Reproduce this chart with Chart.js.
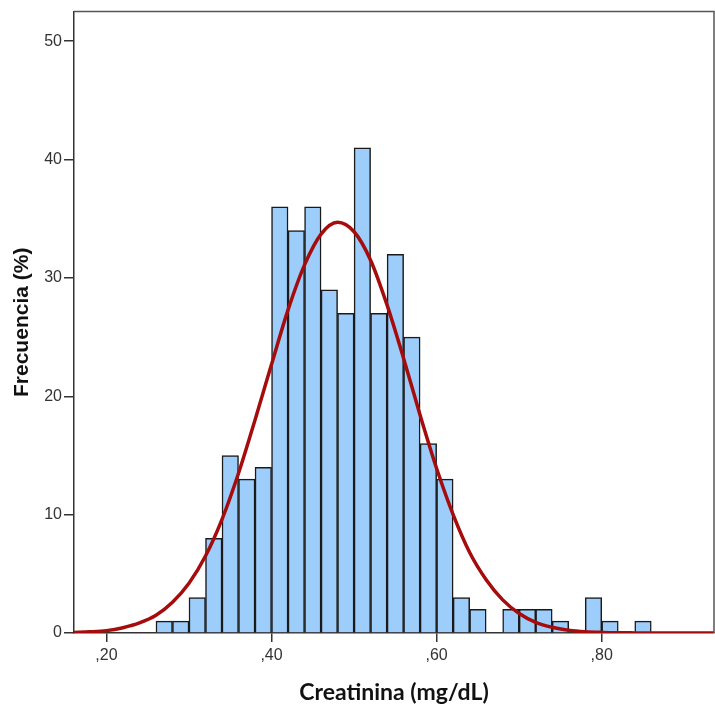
<!DOCTYPE html>
<html lang="es">
<head>
    <meta charset="UTF-8">
    <title>Creatinina</title>
    <script src="https://cdn.jsdelivr.net/npm/chart.js"></script>
    <style>
        html, body { margin: 0; padding: 0; background: #fff; }
        #wrap { width: 715px; height: 717px; position: relative; }
    </style>
</head>
<body>
<div id="wrap"><canvas id="histChart"></canvas></div>

<script>
    // left edge of each 0.02-wide bin and its count
    const binStarts = [0.26, 0.28, 0.30, 0.32, 0.34, 0.36, 0.38, 0.40, 0.42, 0.44,
                       0.46, 0.48, 0.50, 0.52, 0.54, 0.56, 0.58, 0.60, 0.62, 0.64,
                       0.66, 0.68, 0.70, 0.72, 0.74, 0.76, 0.78, 0.80, 0.82, 0.84];
    const counts = [1, 1, 3, 8, 15, 13, 14, 36, 34, 36,
                    29, 27, 41, 27, 32, 25, 16, 13, 3, 2,
                    0, 2, 2, 2, 1, 0, 3, 1, 0, 1];
    const binWidth = 0.02;

    // normal curve
    const curveX = [0.16, 0.18, 0.20, 0.22, 0.24, 0.26, 0.28, 0.30, 0.32, 0.34,
                    0.36, 0.38, 0.40, 0.42, 0.44, 0.46, 0.48, 0.50, 0.52, 0.54,
                    0.56, 0.58, 0.60, 0.62, 0.64, 0.66, 0.68, 0.70, 0.72, 0.74,
                    0.76, 0.78, 0.80, 0.82, 0.84, 0.88, 0.936];
    const curveY = [0.05, 0.1, 0.2, 0.45, 0.85, 1.5, 2.6, 4.2, 6.5, 9.6,
                    13.5, 18.0, 22.7, 27.3, 31.1, 33.7, 34.7, 33.9, 31.5, 27.7,
                    23.2, 18.4, 13.9, 10.0, 6.8, 4.5, 2.8, 1.65, 0.9, 0.48,
                    0.24, 0.11, 0.05, 0.02, 0.01, 0, 0];

    const xTicks = [0.20, 0.40, 0.60, 0.80];
    const yTicks = [0, 10, 20, 30, 40, 50];

    const frame = {
        id: 'frame',
        afterDraw(chart) {
            const a = chart.chartArea, ctx = chart.ctx;
            ctx.save();
            ctx.strokeStyle = '#555';
            ctx.lineWidth = 1.5;
            ctx.beginPath();
            ctx.moveTo(a.left, a.top);
            ctx.lineTo(a.right, a.top);
            ctx.lineTo(a.right, a.bottom);
            ctx.stroke();
            ctx.restore();
        }
    };

    const ctx = document.getElementById('histChart').getContext('2d');
    new Chart(ctx, {
        data: {
            datasets: [{
                type: 'line',
                data: curveX.map((x, i) => ({ x, y: curveY[i] })),
                borderColor: '#A50D0D',
                borderWidth: 3.5,
                pointRadius: 0,
                tension: 0.4,
                cubicInterpolationMode: 'monotone',
                order: 0
            }, {
                type: 'bar',
                data: binStarts.map((s, i) => ({ x: s + binWidth / 2, y: counts[i] })),
                backgroundColor: '#9DCDFB',
                borderColor: '#1a1a1a',
                borderWidth: 1.5,
                barPercentage: 1,
                categoryPercentage: 1,
                order: 1
            }]
        },
        options: {
            responsive: true,
            maintainAspectRatio: false,
            animation: false,
            layout: { padding: { top: 10, right: 1, left: 0, bottom: 0 } },
            plugins: { legend: { display: false }, tooltip: { enabled: false } },
            scales: {
                x: {
                    type: 'linear',
                    min: 0.1607,
                    max: 0.936,
                    offset: false,
                    afterBuildTicks: s => { s.ticks = xTicks.map(v => ({ value: v })); },
                    afterFit: s => { s.height = 84; },
                    grid: { offset: false, drawOnChartArea: false, drawTicks: true, tickLength: 9, color: '#333', lineWidth: 1.5 },
                    border: { display: true, color: '#333', width: 1.5 },
                    ticks: {
                        padding: 4,
                        color: '#333',
                        font: { family: 'Liberation Sans', size: 16 },
                        callback: v => ',' + v.toFixed(2).split('.')[1]
                    },
                    title: {
                        display: true,
                        text: 'Creatinina (mg/dL)',
                        color: '#111',
                        font: { family: 'Lato', size: 23, weight: 'bold' },
                        padding: { top: 0, bottom: 11 }
                    }
                },
                y: {
                    min: 0,
                    max: 52.5,
                    afterBuildTicks: s => { s.ticks = yTicks.map(v => ({ value: v })); },
                    afterFit: s => { s.width = 74; },
                    grid: { drawOnChartArea: false, drawTicks: true, tickLength: 10, color: '#333', lineWidth: 1.5 },
                    border: { display: true, color: '#333', width: 1.5 },
                    ticks: {
                        padding: 2,
                        color: '#333',
                        font: { family: 'Liberation Sans', size: 16 }
                    },
                    title: {
                        display: true,
                        text: 'Frecuencia (%)',
                        color: '#111',
                        font: { family: 'Liberation Sans', size: 21, weight: 'bold' },
                        padding: { top: 10, bottom: 0 }
                    }
                }
            }
        },
        plugins: [frame]
    });
</script>
</body>
</html>
